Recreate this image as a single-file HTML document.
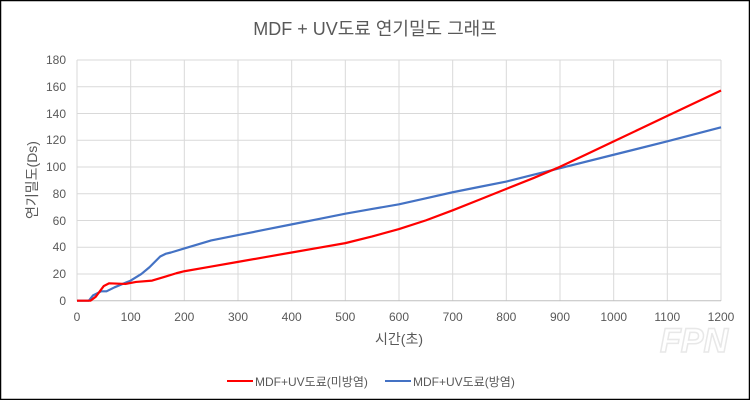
<!DOCTYPE html>
<html><head><meta charset="utf-8"><style>
body{margin:0;background:#fff}
svg{display:block}
text{font-family:"Liberation Sans","Noto Sans CJK KR",sans-serif;fill:#595959}
</style></head><body>
<svg width="750" height="400" viewBox="0 0 750 400">
<rect x="0.5" y="0.5" width="749" height="399" fill="#fff" stroke="#000" stroke-width="1.5"/>
<text x="375" y="35" font-size="18" text-anchor="middle">MDF + UV도료 연기밀도 그래프</text>
<g stroke="#d9d9d9" stroke-width="1">
<line x1="77" y1="60" x2="721" y2="60"/><line x1="77" y1="86.8" x2="721" y2="86.8"/><line x1="77" y1="113.5" x2="721" y2="113.5"/><line x1="77" y1="140.3" x2="721" y2="140.3"/><line x1="77" y1="167" x2="721" y2="167"/><line x1="77" y1="193.8" x2="721" y2="193.8"/><line x1="77" y1="220.5" x2="721" y2="220.5"/><line x1="77" y1="247.3" x2="721" y2="247.3"/><line x1="77" y1="274" x2="721" y2="274"/>
<line x1="77" y1="60" x2="77" y2="301"/><line x1="130.7" y1="60" x2="130.7" y2="301"/><line x1="184.3" y1="60" x2="184.3" y2="301"/><line x1="238" y1="60" x2="238" y2="301"/><line x1="291.7" y1="60" x2="291.7" y2="301"/><line x1="345.3" y1="60" x2="345.3" y2="301"/><line x1="399" y1="60" x2="399" y2="301"/><line x1="452.7" y1="60" x2="452.7" y2="301"/><line x1="506.3" y1="60" x2="506.3" y2="301"/><line x1="560" y1="60" x2="560" y2="301"/><line x1="613.7" y1="60" x2="613.7" y2="301"/><line x1="667.3" y1="60" x2="667.3" y2="301"/><line x1="721" y1="60" x2="721" y2="301"/>
</g>
<line x1="77" y1="300.7" x2="721" y2="300.7" stroke="#bfbfbf"/>
<g font-size="12" text-anchor="end">
<text x="66" y="64">180</text><text x="66" y="91">160</text><text x="66" y="118">140</text><text x="66" y="144">120</text><text x="66" y="171">100</text><text x="66" y="198">80</text><text x="66" y="225">60</text><text x="66" y="251">40</text><text x="66" y="278">20</text><text x="66" y="305">0</text>
</g>
<g font-size="12" text-anchor="middle">
<text x="77" y="321">0</text><text x="130.7" y="321">100</text><text x="184.3" y="321">200</text><text x="238" y="321">300</text><text x="291.7" y="321">400</text><text x="345.3" y="321">500</text><text x="399" y="321">600</text><text x="452.7" y="321">700</text><text x="506.3" y="321">800</text><text x="560" y="321">900</text><text x="613.7" y="321">1000</text><text x="667.3" y="321">1100</text><text x="721" y="321">1200</text>
</g>
<text x="399" y="344" font-size="14" text-anchor="middle">시간(초)</text>
<text transform="translate(37,180) rotate(-90)" font-size="14" text-anchor="middle">연기밀도(Ds)</text>
<g transform="translate(77,300.7) scale(0.5367,-1.339)" fill="none" stroke-width="2.2" stroke-linejoin="round">
<polyline vector-effect="non-scaling-stroke" stroke="#4472c4" points="0,0 22,0 30,4 45,7 55,7 70,10 100,15 120,20 135,25 145,29 155,33 165,35 175,36 200,39 250,45 300,49 350,53 400,57 450,61 500,65 550,68.5 600,72 650,76.5 700,81 750,85 800,89 850,94 900,99 1000,109 1100,119 1200,129.5"/>
<polyline vector-effect="non-scaling-stroke" stroke="#ff0000" points="0,0 25,0 35,3 50,11 60,13 90,12.5 110,14 140,15 165,18 185,20.5 200,22 250,25.5 300,29 350,32.5 400,36 450,39.5 500,43 550,48 600,53.5 650,60 700,67.5 750,75.5 800,83.5 850,91.5 900,100 950,109.5 1000,119 1100,138 1200,157"/>
</g>
<line x1="227" y1="381" x2="253" y2="381" stroke="#ff0000" stroke-width="2"/>
<text x="255" y="386" font-size="12">MDF+UV도료(미방염)</text>
<line x1="385" y1="381" x2="411" y2="381" stroke="#4472c4" stroke-width="2"/>
<text x="413" y="386" font-size="12">MDF+UV도료(방염)</text>
<text x="660" y="352" font-size="34" font-style="italic" font-weight="bold" fill="none" stroke="#e8e8e8" stroke-width="1.5" style="fill:none">FPN</text>
</svg>
</body></html>
